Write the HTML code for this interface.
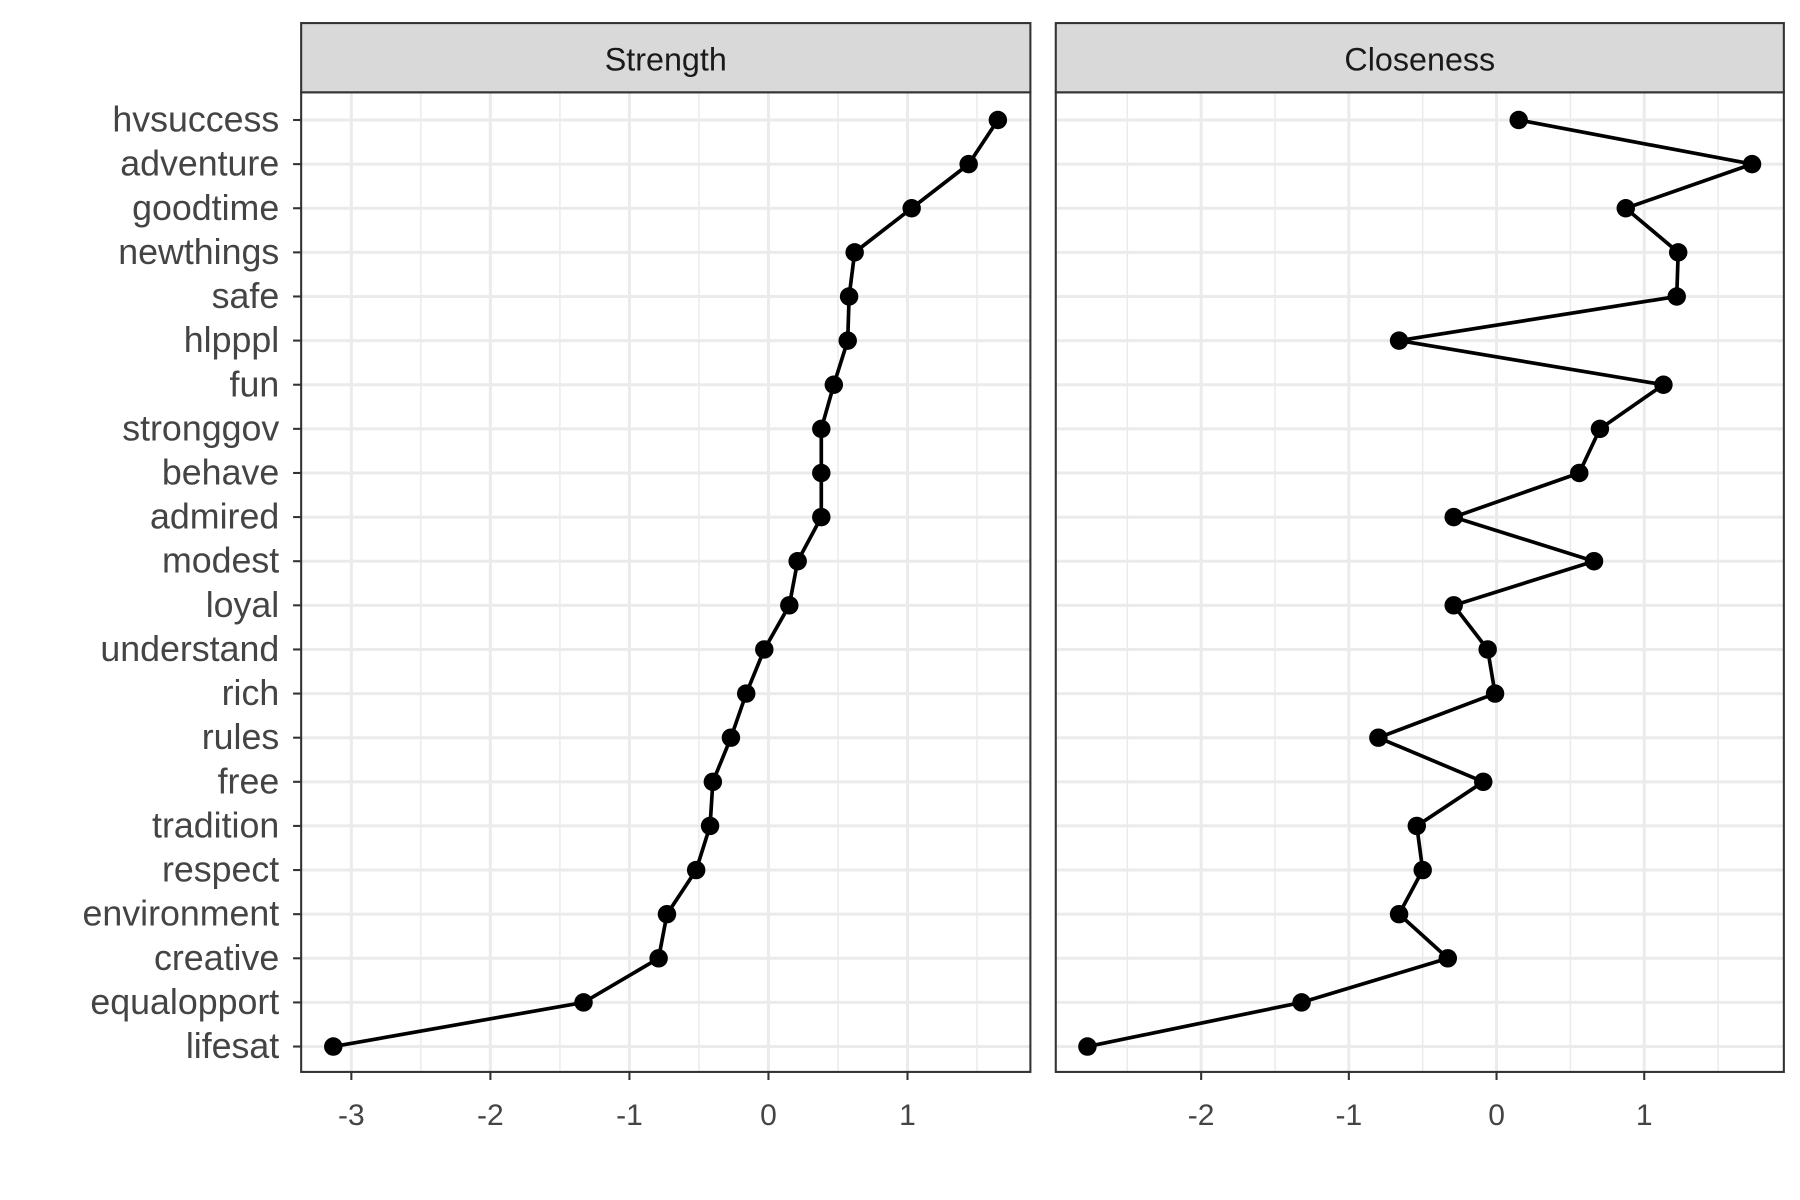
<!DOCTYPE html>
<html><head><meta charset="utf-8"><style>
html,body{margin:0;padding:0;background:#fff;}
svg{display:block;font-family:"Liberation Sans",Arial,sans-serif;}
</style></head><body>
<svg id="chart" width="1800" height="1200" viewBox="0 0 1560 1040" xmlns="http://www.w3.org/2000/svg"></svg>
<script>
const categories=["hvsuccess","adventure","goodtime","newthings","safe","hlpppl","fun","stronggov","behave","admired","modest","loyal","understand","rich","rules","free","tradition","respect","environment","creative","equalopport","lifesat"];
const strengthValues=[1.65,1.44,1.03,0.62,0.58,0.57,0.47,0.38,0.38,0.38,0.21,0.15,-0.03,-0.16,-0.27,-0.40,-0.42,-0.52,-0.73,-0.79,-1.33,-3.13];
const closenessValues=[0.15,1.73,0.875,1.23,1.22,-0.66,1.13,0.70,0.56,-0.29,0.66,-0.29,-0.06,-0.01,-0.80,-0.09,-0.54,-0.50,-0.66,-0.33,-1.32,-2.77];
const strengthTicks=[-3,-2,-1,0,1];
const closenessTicks=[-2,-1,0,1];
const strengthMinor=[-2.5,-1.5,-0.5,0.5,1.5];
const closenessMinor=[-2.5,-1.5,-0.5,0.5,1.5];

const svgEl=document.getElementById('chart');
const NS="http://www.w3.org/2000/svg";
function mk(tag,attrs,parent){const e=document.createElementNS(NS,tag);for(const k in attrs)e.setAttribute(k,attrs[k]);(parent||svgEl).appendChild(e);return e;}
const plotTop=80,plotBottom=929,stripTop=20;
function yScale(i){return 104+i*(907-104)/21;}
const panels=[
 {name:"strength",title:"Strength",x0:261,x1:893,zero:666,unit:120.5,vals:strengthValues,ticks:strengthTicks,minor:strengthMinor},
 {name:"closeness",title:"Closeness",x0:915,x1:1546,zero:1297,unit:128,vals:closenessValues,ticks:closenessTicks,minor:closenessMinor}
];
panels.forEach((p,pi)=>{
 const xs=v=>p.zero+v*p.unit;
 const g=mk('g',{});
 
 
 mk('rect',{x:p.x0,y:plotTop,width:p.x1-p.x0,height:plotBottom-plotTop,fill:'#fff'},g);
 p.minor.forEach(v=>{const l=mk('line',{x1:xs(v),x2:xs(v),y1:plotTop,y2:plotBottom,stroke:'#ebebeb','stroke-width':1.3},g);
  
  });
 p.ticks.forEach(v=>{const l=mk('line',{x1:xs(v),x2:xs(v),y1:plotTop,y2:plotBottom,stroke:'#ebebeb','stroke-width':2.6},g);
  
  });
 categories.forEach((c,i)=>{const l=mk('line',{x1:p.x0,x2:p.x1,y1:yScale(i),y2:yScale(i),stroke:'#ebebeb','stroke-width':2.6},g);
  
  });
 const pts=p.vals.map((v,i)=>xs(v)+','+yScale(i)).join(' ');
 const pl=mk('polyline',{points:pts,fill:'none',stroke:'#000','stroke-width':3.2,'stroke-linejoin':'round'},g);
 
 
 p.vals.forEach((v,i)=>{const c=mk('circle',{cx:xs(v),cy:yScale(i),r:8,fill:'#000'},g);
  
  });
 const b=mk('rect',{x:p.x0,y:plotTop,width:p.x1-p.x0,height:plotBottom-plotTop,fill:'none',stroke:'#333','stroke-width':1.8},g);
 
 
 const s=mk('rect',{x:p.x0,y:stripTop,width:p.x1-p.x0,height:plotTop-stripTop,fill:'#d9d9d9',stroke:'#333','stroke-width':1.8},g);
 
 
 const st=mk('text',{x:(p.x0+p.x1)/2,y:61,'text-anchor':'middle','font-size':28,fill:'#1a1a1a'},g);
 st.textContent=p.title;
 
 
 p.ticks.forEach(v=>{mk('line',{x1:xs(v),x2:xs(v),y1:plotBottom,y2:plotBottom+7,stroke:'#333','stroke-width':1.8},g);
  const t=mk('text',{x:xs(v),y:975,'text-anchor':'middle','font-size':26,fill:'#444'},g);
  t.textContent=String(v);
  
  });
 if(pi===0){categories.forEach((c,i)=>{mk('line',{x1:p.x0-7,x2:p.x0,y1:yScale(i),y2:yScale(i),stroke:'#333','stroke-width':1.8},g);
  const t=mk('text',{x:p.x0-19,y:yScale(i)+10,'text-anchor':'end','font-size':31,fill:'#444'},g);
  t.textContent=c;
  
  });}
});
</script>
</body></html>
